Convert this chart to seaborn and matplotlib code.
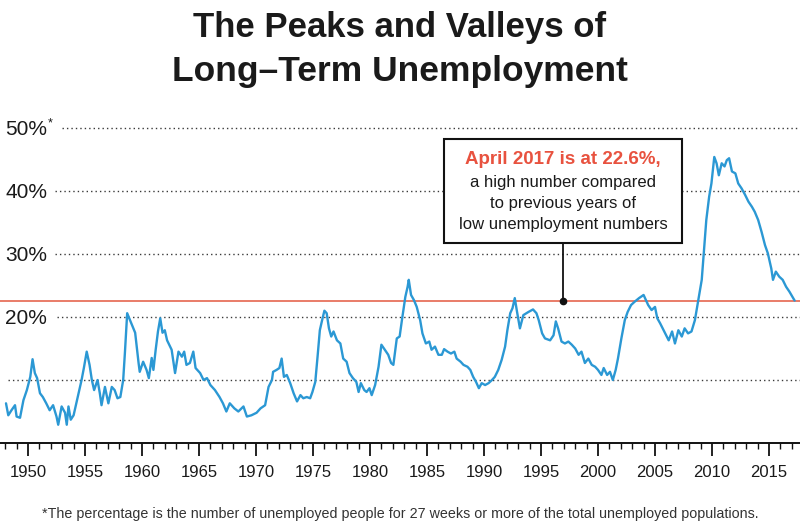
import matplotlib
matplotlib.use("Agg")
import matplotlib.pyplot as plt
import seaborn as sns
import pandas as pd
from matplotlib.patches import Rectangle

# ---- data ----
years = [1948.07, 1948.27, 1948.55, 1948.86, 1949.0, 1949.3, 1949.6, 1949.9, 1950.2, 1950.4,
         1950.6, 1950.8, 1951.05, 1951.3, 1951.6, 1951.9, 1952.2, 1952.5, 1952.65, 1952.95,
         1953.25, 1953.4, 1953.55, 1953.75, 1954.0, 1954.3, 1954.7, 1954.9, 1955.15, 1955.4,
         1955.6, 1955.8, 1956.1, 1956.3, 1956.45, 1956.75, 1957.05, 1957.35, 1957.6, 1957.85,
         1958.1, 1958.35, 1958.5, 1958.7, 1958.95, 1959.4, 1959.7, 1959.8, 1960.1, 1960.4,
         1960.6, 1960.85, 1961.0, 1961.2, 1961.4, 1961.6, 1961.8, 1962.0, 1962.2, 1962.6,
         1962.9, 1963.2, 1963.5, 1963.7, 1963.9, 1964.2, 1964.5, 1964.7, 1965.1, 1965.4,
         1965.7, 1966.0, 1966.4, 1966.8, 1967.1, 1967.4, 1967.7, 1968.1, 1968.45, 1968.9,
         1969.2, 1969.6, 1970.05, 1970.4, 1970.8, 1971.1, 1971.4, 1971.5, 1971.8, 1972.05,
         1972.25, 1972.45, 1972.7, 1973.0, 1973.3, 1973.6, 1973.9, 1974.15, 1974.45, 1974.75,
         1974.95, 1975.2, 1975.4, 1975.6, 1975.8, 1976.0, 1976.2, 1976.4, 1976.6, 1976.8,
         1977.1, 1977.4, 1977.65, 1977.95, 1978.2, 1978.5, 1978.8, 1979.0, 1979.2, 1979.5,
         1979.7, 1979.95, 1980.15, 1980.45, 1980.75, 1981.0, 1981.3, 1981.6, 1981.85, 1982.05,
         1982.35, 1982.6, 1982.8, 1983.1, 1983.3, 1983.4, 1983.6, 1983.85, 1984.1, 1984.4,
         1984.6, 1984.9, 1985.2, 1985.4, 1985.7, 1986.0, 1986.3, 1986.5, 1986.8, 1987.1,
         1987.4, 1987.6, 1987.95, 1988.2, 1988.55, 1988.8, 1989.05, 1989.3, 1989.55, 1989.8,
         1990.1, 1990.4, 1990.7, 1990.95, 1991.25, 1991.55, 1991.85, 1992.05, 1992.3, 1992.5,
         1992.7, 1992.9, 1993.15, 1993.45, 1993.9, 1994.3, 1994.6, 1994.8, 1995.1, 1995.35,
         1995.8, 1996.1, 1996.3, 1996.5, 1996.8, 1997.1, 1997.4, 1997.7, 1998.0, 1998.3,
         1998.55, 1998.85, 1999.15, 1999.45, 1999.75, 2000.0, 2000.3, 2000.5, 2000.8, 2001.05,
         2001.3, 2001.55, 2001.75, 2002.05, 2002.35, 2002.6, 2002.9, 2003.2, 2003.6, 2004.0,
         2004.4, 2004.7, 2005.0, 2005.2, 2005.45, 2005.9, 2006.2, 2006.5, 2006.75, 2007.05,
         2007.35, 2007.6, 2007.9, 2008.2, 2008.5, 2008.8, 2009.1, 2009.3, 2009.5, 2009.75,
         2009.95, 2010.2, 2010.4, 2010.6, 2010.85, 2011.1, 2011.3, 2011.5, 2011.75, 2012.05,
         2012.3, 2012.6, 2012.9, 2013.2, 2013.5, 2013.75, 2014.05, 2014.35, 2014.65, 2014.9,
         2015.2, 2015.35, 2015.6, 2015.9, 2016.2, 2016.5, 2016.8, 2017.25]
share = [6.3, 4.4, 5.2, 6.0, 4.2, 4.0, 6.8, 8.4, 10.5, 13.3,
         11.1, 10.3, 7.9, 7.3, 6.3, 5.2, 6.0, 4.2, 2.9, 5.8,
         4.8, 2.9, 5.8, 3.7, 4.4, 6.8, 10.0, 11.9, 14.5, 12.4,
         10.0, 8.4, 10.0, 7.9, 6.0, 8.9, 6.3, 8.9, 8.4, 7.1,
         7.3, 10.0, 14.3, 20.6, 19.5, 17.5, 12.7, 11.3, 12.9, 11.6,
         10.3, 13.5, 11.6, 14.8, 17.7, 19.8, 17.5, 17.9, 16.3, 14.8,
         11.1, 14.5, 13.7, 14.5, 12.4, 12.7, 14.5, 11.9, 11.1, 10.0,
         10.3, 9.2, 8.4, 7.3, 6.3, 5.0, 6.3, 5.5, 5.0, 5.8,
         4.2, 4.4, 4.8, 5.5, 6.0, 8.9, 10.0, 11.3, 11.6, 11.9,
         13.4, 10.5, 10.8, 9.5, 7.9, 6.6, 7.6, 7.1, 7.3, 7.1,
         8.1, 9.7, 13.7, 17.9, 19.5, 21.0, 20.6, 18.2, 16.9, 17.7,
         16.3, 15.8, 13.4, 12.9, 11.1, 10.3, 9.7, 8.1, 9.5, 8.4,
         8.1, 8.7, 7.6, 9.2, 12.1, 15.6, 14.8, 14.0, 12.7, 12.4,
         16.6, 16.9, 19.5, 23.2, 24.8, 25.9, 23.5, 22.7, 21.6, 19.5,
         17.4, 15.8, 16.1, 14.8, 15.3, 14.0, 14.0, 14.9, 14.5, 14.2,
         14.5, 13.4, 12.9, 12.4, 12.1, 11.6, 10.5, 9.7, 8.7, 9.5,
         9.2, 9.5, 10.0, 10.5, 11.6, 13.2, 15.3, 17.9, 20.6, 21.4,
         23.0, 20.8, 18.2, 20.3, 20.8, 21.2, 20.6, 19.5, 17.4, 16.6,
         16.3, 17.1, 19.3, 18.2, 16.1, 15.8, 16.1, 15.6, 15.0, 14.0,
         14.5, 12.7, 13.4, 12.4, 12.1, 11.6, 10.8, 11.9, 10.8, 11.3,
         10.0, 11.6, 13.4, 16.6, 19.5, 20.8, 21.9, 22.4, 23.0, 23.5,
         21.9, 21.1, 21.6, 19.8, 19.0, 17.4, 16.3, 17.7, 15.8, 17.9,
         16.9, 18.2, 17.4, 17.7, 19.5, 22.7, 25.9, 30.6, 35.4, 39.1,
         41.2, 45.4, 44.4, 42.5, 44.4, 43.9, 44.9, 45.2, 43.1, 42.8,
         41.2, 40.4, 39.4, 38.3, 37.5, 36.7, 35.4, 33.5, 31.4, 30.1,
         27.7, 25.9, 27.2, 26.4, 25.9, 24.8, 24.0, 22.6]

ytick_values = [10, 20, 30, 40, 50]
ytick_labels = ["", "20%", "30%", "40%", "50%"]
major_years = list(range(1950, 2016, 5))
minor_years = list(range(1948, 2018))
current_value = 22.6
callout_year = 1996.93

title = "The Peaks and Valleys of\nLong–Term Unemployment"
callout_head = "April 2017 is at 22.6%,"
callout_body = ["a high number compared", "to previous years of", "low unemployment numbers"]
footnote = ("*The percentage is the number of unemployed people for 27 weeks or more "
            "of the total unemployed populations.")

# ---- style ----
sns.set_style("white")
FONT = ["Liberation Sans", "DejaVu Sans"]
plt.rcParams["font.family"] = FONT

W, H = 800, 529
fig = plt.figure(figsize=(8, 5.29), dpi=100)
fig.patch.set_facecolor("white")

# axes: x 0..800 px, y 0% at px 443, 6.3 px per %
px_per_year = 11.4
x0 = 1950 - 28 / px_per_year
x1 = x0 + W / px_per_year
ytop = 52
ax = fig.add_axes([0, (H - 443) / H, 1, ytop * 6.3 / H])
ax.set_facecolor("white")

df = pd.DataFrame({"year": years, "share": share})
sns.lineplot(data=df, x="year", y="share", ax=ax, color="#2b98d4", linewidth=1.7, zorder=3)

ax.set_xlim(x0, x1)
ax.set_ylim(0, ytop)
ax.set_xlabel("")
ax.set_ylabel("")

# gridlines (dotted, starting after the labels)
grid_start = {10: 8, 20: 57, 30: 55, 40: 55, 50: 62}
for v in ytick_values:
    ax.axhline(v, xmin=grid_start[v] / W, xmax=1, color="#3a3a3a",
               linestyle=(0, (1, 2.2)), linewidth=1.0, zorder=1)
for v, lab in zip(ytick_values, ytick_labels):
    if lab:
        ax.text(5 / W, v - 0.3, lab, transform=ax.get_yaxis_transform(), ha="left",
                va="center", fontsize=15, color="#1a1a1a", zorder=4)
ax.text(48 / W, 50.7, "*", transform=ax.get_yaxis_transform(), ha="left", va="center",
        fontsize=9, color="#1a1a1a")

# current level line
ax.axhline(current_value, color="#e5664f", linewidth=1.2, zorder=2)

# spines and ticks
for s in ["top", "right", "left"]:
    ax.spines[s].set_visible(False)
ax.spines["bottom"].set_color("#111111")
ax.spines["bottom"].set_linewidth(1.4)
ax.set_yticks([])
ax.set_xticks(major_years)
ax.set_xticklabels([str(y) for y in major_years])
ax.set_xticks(minor_years, minor=True)
ax.tick_params(axis="x", which="major", direction="out", length=9, width=1.3,
               color="#111111", pad=7, labelsize=12, labelcolor="#1a1a1a", bottom=True)
ax.tick_params(axis="x", which="minor", direction="out", length=4, width=1.0,
               color="#111111", bottom=True)

# callout connector and dot
box_bottom = (443 - 243) / 6.3
ax.plot([callout_year, callout_year], [current_value, box_bottom], color="#111111",
        linewidth=1.3, zorder=5)
ax.plot([callout_year], [current_value], marker="o", markersize=4.5, color="#111111", zorder=6)

# callout box (figure pixels)
bx0, by0, bx1, by1 = 444, 139, 682, 243
fig.add_artist(Rectangle((bx0 / W, 1 - by1 / H), (bx1 - bx0) / W, (by1 - by0) / H,
                         transform=fig.transFigure, facecolor="white", edgecolor="#111111",
                         linewidth=1.5, zorder=10))
cx = (bx0 + bx1) / 2 / W
fig.text(cx, 1 - 160 / H, callout_head, ha="center", va="center", fontsize=13.5,
         fontweight="bold", color="#e8523f", zorder=11)
for i, line in enumerate(callout_body):
    fig.text(cx, 1 - (183 + 20.5 * i) / H, line, ha="center", va="center", fontsize=12,
             color="#1a1a1a", zorder=11)

# title
t1, t2 = title.split("\n")
fig.text(0.5, 1 - 27 / H, t1, ha="center", va="center", fontsize=25, fontweight="bold",
         color="#1a1a1a")
fig.text(0.5, 1 - 72 / H, t2, ha="center", va="center", fontsize=25.5, fontweight="bold",
         color="#1a1a1a")

# footnote
fig.text(0.5, 1 - 514 / H, footnote, ha="center", va="center", fontsize=10.3, color="#333333")

fig.savefig("out.png", dpi=100, facecolor="white")
